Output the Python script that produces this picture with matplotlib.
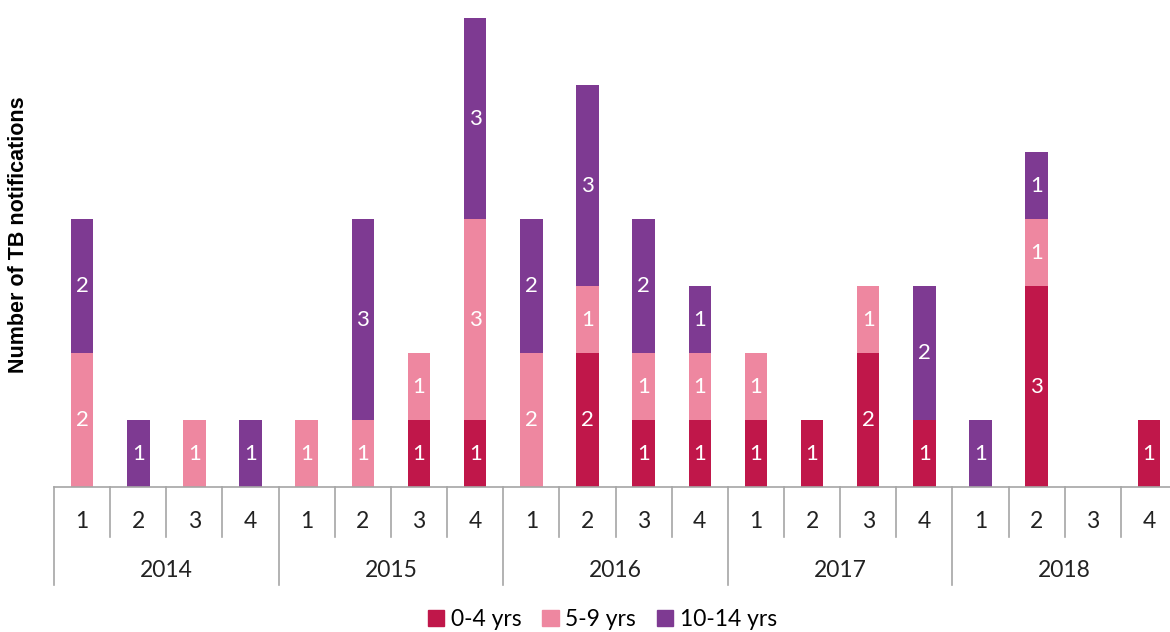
import numpy as np
import matplotlib.pyplot as plt
from matplotlib.patches import Patch

# dane: kwartały 2014-2018
years = ["2014", "2015", "2016", "2017", "2018"]
quarters = ["1", "2", "3", "4"]
age_0_4 = [0, 0, 0, 0, 0, 0, 1, 1, 0, 2, 1, 1, 1, 1, 2, 1, 0, 3, 0, 1]
age_5_9 = [2, 0, 1, 0, 1, 1, 1, 3, 2, 1, 1, 1, 1, 0, 1, 0, 0, 1, 0, 0]
age_10_14 = [2, 1, 0, 1, 0, 3, 0, 3, 2, 3, 2, 1, 0, 0, 0, 2, 1, 1, 0, 0]

series = [("0-4 yrs", age_0_4, "#C0174A"),
          ("5-9 yrs", age_5_9, "#EE87A0"),
          ("10-14 yrs", age_10_14, "#7E3A92")]

plt.rcParams['font.family'] = ['Lato', 'DejaVu Sans']

fig = plt.figure(figsize=(11.7, 6.32), dpi=100)
# oś wychodzi nieco poza prawą krawędź (jak w oryginale)
ax = fig.add_axes([0.0462, 0.2294, 0.9598, 0.7421])

n = len(age_0_4)
x = np.arange(n)
bottom = np.zeros(n)
for name, vals, col in series:
    vals = np.array(vals)
    ax.bar(x, vals, 0.40, bottom=bottom, color=col, label=name)
    for xi, v, b in zip(x, vals, bottom):
        if v > 0:
            ax.text(xi, b + v / 2, str(v), ha='center', va='center',
                    color='white', fontsize=16)
    bottom += vals

ax.set_xlim(-0.5, n - 0.5)
ax.set_ylim(0, 7)
for s in ['top', 'right', 'left']:
    ax.spines[s].set_visible(False)
ax.spines['bottom'].set_color('#A6A6A6')
ax.spines['bottom'].set_linewidth(1.2)
ax.set_xticks([])
ax.set_yticks([])

# dwupoziomowa oś x
tr = ax.get_xaxis_transform()
for i in range(n + 1):
    y_end = -0.209 if i % 4 == 0 else -0.1066
    ax.plot([i - 0.5, i - 0.5], [0, y_end], color='#A6A6A6', lw=1.2,
            transform=tr, clip_on=False)
for i in range(n):
    ax.text(i, -0.0725, quarters[i % 4], transform=tr, ha='center',
            va='center', fontsize=16.5, color='#222222')
for j, yr in enumerate(years):
    ax.text(j * 4 + 1.5, -0.177, yr, transform=tr, ha='center',
            va='center', fontsize=16.5, color='#222222')

ax.set_ylabel("Number of TB notifications", fontsize=15.5, fontweight='bold',
              family=['Liberation Sans', 'DejaVu Sans'])
ax.yaxis.set_label_coords(-0.022, 0.537)

handles = [Patch(color=c, label=nm) for nm, _, c in series]
fig.legend(handles=handles, loc='center', bbox_to_anchor=(0.515, 0.019),
           ncol=3, frameon=False, fontsize=16.5, handlelength=0.7,
           handleheight=0.7, handletextpad=0.3, columnspacing=0.9)

fig.savefig("out.png", dpi=100)
